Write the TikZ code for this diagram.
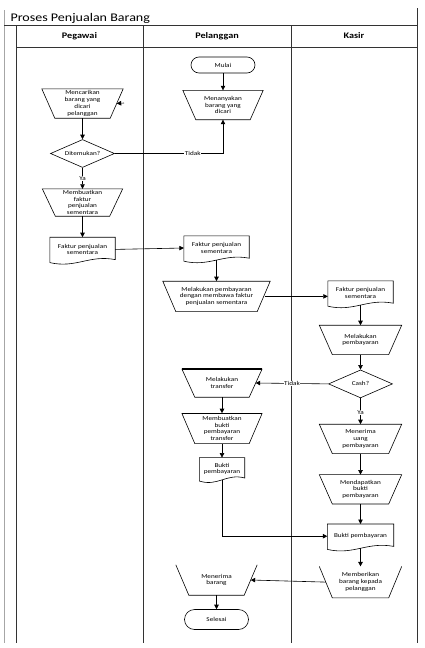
\documentclass[tikz,border=0pt]{standalone}
\usepackage{fontspec}
\setmainfont{Carlito}[FakeStretch=1.2]
\usetikzlibrary{arrows.meta, positioning, shapes, calc}

\newcommand{\boxfont}{\fontsize{6}{6.8}\selectfont}

\begin{document}
\begin{tikzpicture}[x=1pt, y=1pt, font=\boxfont, node distance=21pt,
    ln/.style={line width=0.6pt},
    manop/.style={inner sep=0pt, minimum width=81pt, minimum height=29pt, align=center},
    docbox/.style={inner sep=0pt, minimum width=65pt, minimum height=24pt, align=center},
    decision/.style={diamond, draw, ln, aspect=2.2, inner sep=0pt, minimum width=64pt, minimum height=28pt},
    terminal/.style={draw, ln, rounded corners=8pt, minimum width=64pt, minimum height=16pt, inner sep=0pt},
    arr/.style={ln, -{Triangle[length=4.5pt, width=4.5pt]}},
    lbl/.style={fill=white, inner sep=0.6pt},
    lane/.style={line width=1pt, black!80},
    hdr/.style={font=\fontsize{8.5}{10}\selectfont\bfseries}]
  \useasboundingbox (0,0) rectangle (425,-648);

  % frame and swimlanes
  \draw[black!35, line width=0.8pt] (4,-10) -- (4,-643);
  \draw[lane] (16,-25) -- (16,-643) (143,-25) -- (143,-643) (291,-25) -- (291,-643) (417,-8) -- (417,-643);
  \draw[lane] (4,-25) -- (417,-25) (16,-47) -- (417,-47);
  \node[anchor=base west, font=\fontsize{11.7}{14}\selectfont] (title) at (7,-21.5) {Proses Penjualan Barang};
  \node[hdr] (hpeg) at (79.5,-36) {Pegawai};
  \node[hdr] (hpel) at (217,-36) {Pelanggan};
  \node[hdr] (hkas) at (354,-36) {Kasir};

  % Pegawai
  \node[manop] (mencari) at (82.5,-103.5) {Mencarikan\\barang yang\\dicari\\pelanggan};
  \node[decision, below=21pt of mencari] (ditemukan) {Ditemukan?};
  \node[manop, minimum width=80pt, minimum height=27pt, below=21pt of ditemukan] (bfaktur) {Membuatkan\\faktur\\penjualan\\sementara};
  \node[docbox, below=21pt of bfaktur] (fdoc) {Faktur penjualan\\sementara};

  % Pelanggan
  \node[terminal] (mulai) at (223,-65) {Mulai};
  \node[manop, minimum width=80pt, below=17pt of mulai] (tanya) {Menanyakan\\barang yang\\dicari};
  \node[docbox] (pdoc) at (216.5,-248) {Faktur penjualan\\sementara};
  \node[manop, minimum width=107pt, minimum height=30pt, below=21pt of pdoc] (bayar) {Melakukan pembayaran\\dengan membawa faktur\\penjualan sementara};
  \node[manop, minimum width=80pt, minimum height=28pt] (transfer) at (222,-383) {Melakukan\\transfer};
  \node[manop, minimum width=80pt, minimum height=30pt, below=16pt of transfer] (buktitf) {Membuatkan\\bukti\\pembayaran\\transfer};
  \node[docbox, minimum width=45pt, minimum height=22pt, below=14pt of buktitf] (bukti) {Bukti\\pembayaran};
  \node[manop, minimum height=30pt] (terima) at (216.5,-580) {Menerima\\barang};
  \node[terminal, rounded corners=10pt, minimum height=20pt, below=14pt of terima] (selesai) {Selesai};

  % Kasir
  \node[docbox] (kdoc) at (360.5,-293) {Faktur penjualan\\sementara};
  \node[manop, minimum width=82pt, below=20pt of kdoc] (kbayar) {Melakukan\\pembayaran};
  \node[decision, below=15pt of kbayar] (cash) {Cash?};
  \node[manop, minimum width=82pt, below=26pt of cash] (uang) {Menerima\\uang\\pembayaran};
  \node[manop, minimum width=82pt, below=21pt of uang] (dapat) {Mendapatkan\\bukti\\pembayaran};
  \node[docbox, minimum width=66pt, below=20pt of dapat] (kbukti) {Bukti pembayaran};
  \node[manop, minimum width=82pt, minimum height=31pt, below=18pt of kbukti] (beri) {Memberikan\\barang kepada\\pelanggan};

  % manual operation outlines
  \foreach \n in {mencari,bfaktur,tanya,bayar,kbayar,uang,dapat}
    \draw[ln] (\n.north west) -- ([xshift=13pt]\n.south west) -- ([xshift=-13pt]\n.south east) -- (\n.north east) -- cycle;
  \foreach \n in {transfer,buktitf} {
    \draw[ln] (\n.north west) -- ([xshift=13pt]\n.south west) -- ([xshift=-13pt]\n.south east) -- (\n.north east);
    \draw[line width=1.4pt] (\n.north west) -- (\n.north east);
  }
  \foreach \n in {terima,beri}
    \draw[ln] (\n.north west) -- ([xshift=13pt]\n.south west) -- ([xshift=-13pt]\n.south east) -- (\n.north east);

  % document outlines
  \foreach \n in {fdoc,pdoc,kdoc,bukti,kbukti}
    \draw[ln] (\n.north west) -- (\n.north east) -- ([yshift=2pt]\n.south east)
      .. controls ($(\n.south east)!0.4!(\n.south west)+(0,7)$) and ($(\n.south west)!0.4!(\n.south east)+(0,-7)$) .. ([yshift=-1pt]\n.south west) -- cycle;

  % connectors
  \coordinate (stub) at (124,-103);
  \draw[arr] (stub) -- ([xshift=-6.5pt]mencari.east);
  \draw[arr] (mulai) -- (tanya);
  \draw[arr] (mencari) -- (ditemukan);
  \draw[arr] (ditemukan.east) -| node[lbl, pos=0.36] {Tidak} (tanya.south);
  \draw[arr] (ditemukan) -- node[lbl] {Ya} (bfaktur);
  \draw[arr] (bfaktur) -- (fdoc);
  \draw[arr] (fdoc.east) -- (pdoc.west);
  \draw[arr] (pdoc) -- (bayar);
  \draw[arr] ([xshift=-5.5pt]bayar.east) -- (bayar.east -| kdoc.west);
  \draw[arr] (kdoc) -- (kbayar);
  \draw[arr] (kbayar) -- (cash);
  \draw[arr] (cash.west) -- node[lbl] {Tidak} ([xshift=-6.5pt]transfer.east);
  \draw[arr] (cash) -- node[lbl, pos=0.55] {Ya} (uang);
  \draw[arr] (uang) -- (dapat);
  \draw[arr] (dapat) -- (kbukti);
  \draw[arr] (transfer) -- (buktitf);
  \draw[arr] (buktitf) -- (bukti);
  \draw[arr] (bukti.south) |- (kbukti.west);
  \draw[arr] (kbukti) -- (beri);
  \draw[arr] ([xshift=6.5pt]beri.west) -- ([xshift=-6.5pt]terima.east);
  \draw[arr] (terima) -- (selesai);
\end{tikzpicture}
\end{document}
